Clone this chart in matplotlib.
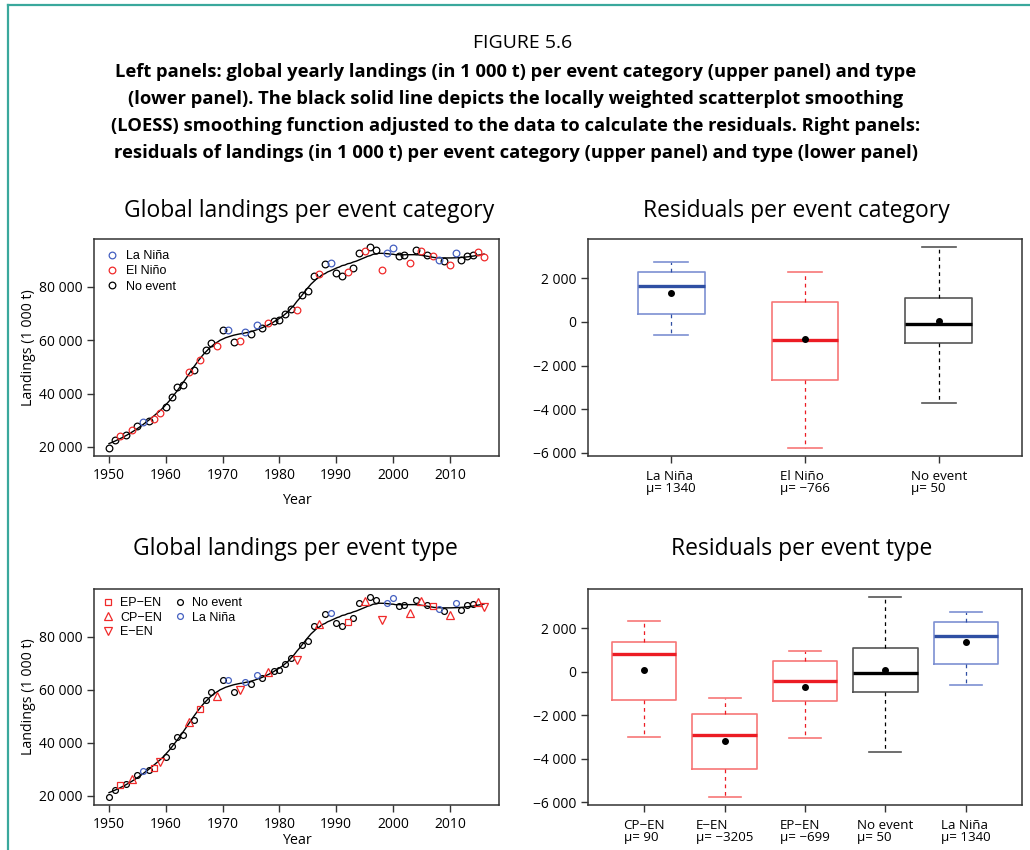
import numpy as np
import matplotlib
matplotlib.use('Agg')
import matplotlib.pyplot as plt
from matplotlib.lines import Line2D
from matplotlib.ticker import FuncFormatter

# ---------------- data ----------------
years = list(range(1950, 2017))
landings = [19600, 22400, 24100, 24500, 26400, 27900, 29500, 29700, 30400, 32600,
            34800, 38800, 42300, 43100, 47900, 48700, 52600, 56200, 59100, 57700,
            63700, 63700, 59300, 59800, 63000, 62300, 65500, 64500, 66500, 67000,
            67500, 69700, 71800, 71200, 76900, 78500, 84000, 84900, 88400, 88900,
            85100, 84100, 85500, 87100, 92700, 93400, 94900, 93900, 86400, 92500,
            94500, 91500, 91900, 89000, 93900, 93500, 91900, 91600, 90200, 89500,
            88100, 92600, 89900, 91700, 92100, 93200, 91100]

ep_en_years = [1952, 1958, 1966, 1992, 2007]
cp_en_years = [1954, 1964, 1969, 1978, 1987, 1995, 2003, 2005, 2010, 2015]
e_en_years = [1959, 1973, 1983, 1998, 2016]
la_nina_years = [1956, 1971, 1974, 1976, 1989, 1999, 2000, 2008, 2011]

# residual box statistics per event category
cat_labels = ['La Niña', 'El Niño', 'No event']
cat_means = [1340, -766, 50]
cat_whislo = [-600, -5771, -3695]
cat_q1 = [360, -2641, -956]
cat_med = [1650, -809, -77]
cat_q3 = [2265, 901, 1085]
cat_whishi = [2745, 2290, 3425]

# residual box statistics per event type
type_labels = ['CP\u2212EN', 'E\u2212EN', 'EP\u2212EN', 'No event', 'La Niña']
type_means = [90, -3205, -699, 50, 1340]
type_whislo = [-3004, -5762, -3065, -3695, -600]
type_q1 = [-1303, -4460, -1364, -956, 360]
type_med = [812, -2927, -429, -77, 1650]
type_q3 = [1379, -1931, 490, 1085, 2265]
type_whishi = [2314, -1195, 935, 3425, 2745]

# ---------------- styling ----------------
BLUE = '#4560c0'
RED = '#f02a2a'
BLACK = '#000000'
FR = 'Open Sans'
HV = 'Liberation Sans'

W, H = 1030, 850
fig = plt.figure(figsize=(W / 100, H / 100), dpi=100)
fig.patch.set_facecolor('white')

# teal frame
fig.add_artist(Line2D([8 / W, 8 / W], [0, 1 - 5 / H], color='#3aa89c', lw=1.6, transform=fig.transFigure))
fig.add_artist(Line2D([8 / W, 1], [1 - 5 / H, 1 - 5 / H], color='#3aa89c', lw=1.6, transform=fig.transFigure))

# header
fig.text(523 / W, 1 - 43 / H, 'FIGURE 5.6', ha='center', va='center', family=FR, fontsize=14)
head = ['Left panels: global yearly landings (in 1 000 t) per event category (upper panel) and type',
        '(lower panel). The black solid line depicts the locally weighted scatterplot smoothing',
        '(LOESS) smoothing function adjusted to the data to calculate the residuals. Right panels:',
        'residuals of landings (in 1 000 t) per event category (upper panel) and type (lower panel)']
for i, line in enumerate(head):
    fig.text(516 / W, 1 - (72 + 27 * i) / H, line, ha='center', va='center', family=FR,
             fontsize=13.2, fontweight='bold')


def thou(v, pos=None):
    v = int(round(v))
    s = f'{abs(v):,}'.replace(',', ' ')
    return ('\u2212' if v < 0 else '') + s


def plain(v):
    v = int(round(v))
    return ('\u2212' if v < 0 else '') + str(abs(v))


def style_axes(ax):
    for s in ax.spines.values():
        s.set_color('#333333')
        s.set_linewidth(1.1)
    ax.tick_params(direction='out', length=5, width=1, color='#333333', labelsize=10)
    for lab in ax.get_xticklabels() + ax.get_yticklabels():
        lab.set_family(FR)


def loess(x, y, xs, span=0.3, degree=2):
    x = np.asarray(x, float)
    y = np.asarray(y, float)
    q = int(np.floor(len(x) * span))
    out = []
    for x0 in xs:
        d = np.abs(x - x0)
        h = np.sort(d)[q - 1]
        w = np.clip(1 - (d / h) ** 3, 0, None) ** 3
        A = np.vander(x - x0, degree + 1)
        sw = np.sqrt(w)
        coef = np.linalg.lstsq(A * sw[:, None], y * sw, rcond=None)[0]
        out.append(coef[-1])
    return np.array(out)


yrs = np.array(years)
lnd = np.array(landings)
xs = np.linspace(yrs.min(), yrs.max(), 400)
smooth = loess(yrs, lnd, xs, span=0.3)

is_ln = np.isin(yrs, la_nina_years)
is_ep = np.isin(yrs, ep_en_years)
is_cp = np.isin(yrs, cp_en_years)
is_e = np.isin(yrs, e_en_years)
is_en = is_ep | is_cp | is_e
is_no = ~(is_ln | is_en)

xlim = (1950 - 0.04 * 66, 2016 + 0.04 * 66)
rng = lnd.max() - lnd.min()
ylim = (lnd.min() - 0.04 * rng, lnd.max() + 0.04 * rng)


def left_panel(rect, title, tx, ty, lower):
    ax = fig.add_axes(rect)
    ax.plot(xs, smooth, color='black', lw=1.0, zorder=2)
    ms = 4.8
    if not lower:
        ax.plot(yrs[is_no], lnd[is_no], 'o', mfc='none', mec=BLACK, ms=ms, mew=0.9, zorder=3)
        ax.plot(yrs[is_en], lnd[is_en], 'o', mfc='none', mec=RED, ms=ms, mew=0.9, zorder=3)
        ax.plot(yrs[is_ln], lnd[is_ln], 'o', mfc='none', mec=BLUE, ms=ms, mew=0.9, zorder=3)
        handles = [Line2D([], [], ls='none', marker='o', mfc='none', mec=BLUE, ms=ms, mew=0.9),
                   Line2D([], [], ls='none', marker='o', mfc='none', mec=RED, ms=ms, mew=0.9),
                   Line2D([], [], ls='none', marker='o', mfc='none', mec=BLACK, ms=ms, mew=0.9)]
        ax.legend(handles, ['La Niña', 'El Niño', 'No event'], loc='upper left',
                  frameon=False, prop={'family': HV, 'size': 9}, handlelength=1.0,
                  handletextpad=0.7, labelspacing=0.25, borderaxespad=0.5,
                  bbox_to_anchor=(0.0, 1.0))
    else:
        ms2 = 4.2
        ax.plot(yrs[is_no], lnd[is_no], 'o', mfc='none', mec=BLACK, ms=ms2, mew=0.9, zorder=3)
        ax.plot(yrs[is_ln], lnd[is_ln], 'o', mfc='none', mec=BLUE, ms=ms2, mew=0.9, zorder=3)
        ax.plot(yrs[is_ep], lnd[is_ep], 's', mfc='none', mec=RED, ms=5.0, mew=0.9, zorder=3)
        ax.plot(yrs[is_cp], lnd[is_cp], '^', mfc='none', mec=RED, ms=5.5, mew=0.9, zorder=3)
        ax.plot(yrs[is_e], lnd[is_e], 'v', mfc='none', mec=RED, ms=5.5, mew=0.9, zorder=3)
        handles = [Line2D([], [], ls='none', marker='s', mfc='none', mec=RED, ms=5.0, mew=0.9),
                   Line2D([], [], ls='none', marker='^', mfc='none', mec=RED, ms=5.5, mew=0.9),
                   Line2D([], [], ls='none', marker='v', mfc='none', mec=RED, ms=5.5, mew=0.9),
                   Line2D([], [], ls='none', marker='o', mfc='none', mec=BLACK, ms=ms2, mew=0.9),
                   Line2D([], [], ls='none', marker='o', mfc='none', mec=BLUE, ms=ms2, mew=0.9)]
        ax.legend(handles, ['EP\u2212EN', 'CP\u2212EN', 'E\u2212EN', 'No event', 'La Niña'],
                  loc='upper left', ncol=2, frameon=False, prop={'family': HV, 'size': 9},
                  handlelength=1.0, handletextpad=0.45, labelspacing=0.2, columnspacing=0.9,
                  borderaxespad=0.25, bbox_to_anchor=(0.0, 1.0))
    ax.set_xlim(xlim)
    ax.set_ylim(ylim)
    ax.set_xticks([1950, 1960, 1970, 1980, 1990, 2000, 2010])
    ax.set_yticks([20000, 40000, 60000, 80000])
    ax.yaxis.set_major_formatter(FuncFormatter(thou))
    style_axes(ax)
    ax.set_xlabel('Year', family=FR, fontsize=10.3, labelpad=(1 if lower else 7))
    ax.set_ylabel('Landings (1 000 t)', family=FR, fontsize=10.3, labelpad=2)
    fig.text(tx / W, 1 - ty / H, title, ha='center', va='center', family=FR, fontsize=16.5)
    return ax


def right_panel(rect, title, tx, ty, labels, means, wlo, q1, med, q3, whi, colors, width):
    ax = fig.add_axes(rect)
    stats = []
    for i in range(len(labels)):
        stats.append(dict(med=med[i], q1=q1[i], q3=q3[i], whislo=wlo[i], whishi=whi[i],
                          mean=means[i], fliers=[], label=f'{labels[i]}\nμ= {plain(means[i])}'))
    pos = list(range(1, len(labels) + 1))
    bp = ax.bxp(stats, positions=pos, widths=width, showmeans=True, showfliers=False,
                patch_artist=False, manage_ticks=False)
    for i, c in enumerate(colors):
        main, box = c
        bp['boxes'][i].set_color(box)
        bp['boxes'][i].set_linewidth(1.2)
        bp['medians'][i].set_color(main)
        bp['medians'][i].set_linewidth(2.4)
        for w in bp['whiskers'][2 * i:2 * i + 2]:
            w.set_color(main)
            w.set_linestyle((0, (3, 3)))
            w.set_linewidth(0.9)
        for cp in bp['caps'][2 * i:2 * i + 2]:
            cp.set_color(box)
            cp.set_linewidth(1.2)
        m = bp['means'][i]
        m.set_marker('o')
        m.set_markerfacecolor('black')
        m.set_markeredgecolor('black')
        m.set_markersize(4)
    n = len(labels)
    ax.set_xlim(0.5 - 0.04 * n, n + 0.5 + 0.04 * n)
    allv = wlo + whi
    r = max(allv) - min(allv)
    ax.set_ylim(min(allv) - 0.04 * r, max(allv) + 0.04 * r)
    ax.set_xticks(pos)
    ax.set_xticklabels([s['label'] for s in stats])
    ax.set_yticks([-6000, -4000, -2000, 0, 2000])
    ax.yaxis.set_major_formatter(FuncFormatter(thou))
    style_axes(ax)
    ax.tick_params(axis='x', labelsize=9.6, pad=5)
    for lab in ax.get_xticklabels():
        lab.set_multialignment('left')
        lab.set_linespacing(0.95)
    fig.text(tx / W, 1 - ty / H, title, ha='center', va='center', family=FR, fontsize=16.5)
    return ax


LX, LW = 94 / W, 405 / W
RX, RW = 588 / W, 434 / W
UB, UH = (H - 456) / H, 217 / H
LB, LH = (H - 805) / H, 216 / H

left_panel([LX, UB, LW, UH], 'Global landings per event category', 309, 211, False)
left_panel([LX, LB, LW, LH], 'Global landings per event type', 295, 549, True)

blue_c = ('#2f4fa3', '#7d90d2')
red_c = ('#ec1c24', '#f77777')
blk_c = ('#000000', '#555555')

right_panel([RX, UB, RW, UH], 'Residuals per event category', 796, 211, cat_labels, cat_means,
            cat_whislo, cat_q1, cat_med, cat_q3, cat_whishi, [blue_c, red_c, blk_c], 0.5)
right_panel([RX, LB, RW, LH], 'Residuals per event type', 802, 549, type_labels, type_means,
            type_whislo, type_q1, type_med, type_q3, type_whishi,
            [red_c, red_c, red_c, blk_c, blue_c], 0.8)

fig.savefig('out.png', dpi=100, facecolor='white')
